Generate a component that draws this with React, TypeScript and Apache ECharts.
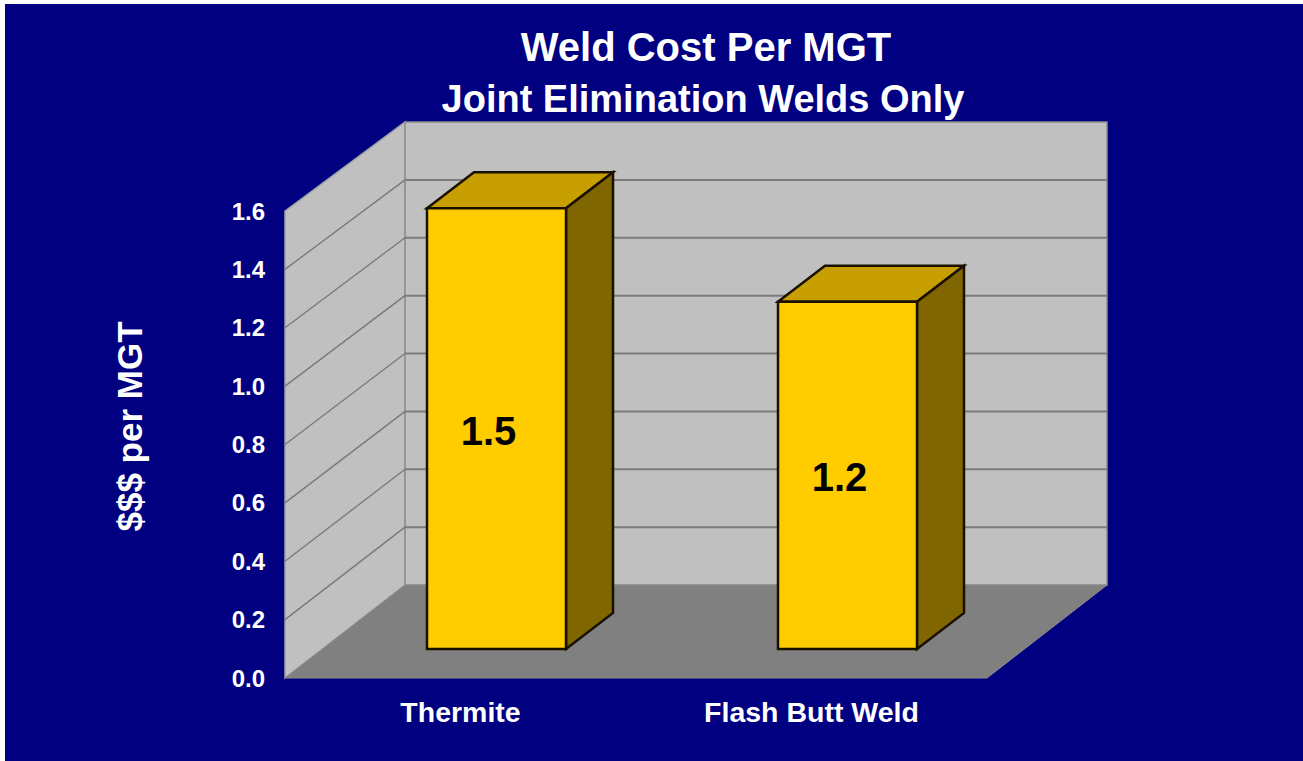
import React, { useEffect, useRef } from "react";
import * as echarts from "echarts";

const categories = ["Thermite", "Flash Butt Weld"];
const costValues = [1.51, 1.19];
const valueTicks = [0, 0.2, 0.4, 0.6, 0.8, 1.0, 1.2, 1.4, 1.6];
const titleLineOne = "Weld Cost Per MGT";
const titleLineTwo = "Joint Elimination Welds Only";
const yAxisName = "$$$ per MGT";

const DEPTH_X = 120;
const DEPTH_Y_FLOOR = -93;
const DEPTH_Y_TOP = -89;
const BAR_W = 139;
const BAR_DX = 36;
const BAR_DY = -29;
const BAR_DEPTH_X = 47;
const BAR_DEPTH_Y = -36;
const FONT = "Liberation Sans, Arial, sans-serif";

function poly(points: number[][], fill: string, stroke?: string, lineWidth = 1.5) {
  return {
    type: "polygon",
    shape: { points },
    style: { fill, stroke: stroke || "none", lineWidth, lineJoin: "miter" },
  };
}
function seg(a: number[], b: number[], stroke: string, lineWidth = 1.2) {
  return {
    type: "line",
    shape: { x1: a[0], y1: a[1], x2: b[0], y2: b[1] },
    style: { stroke, lineWidth },
  };
}
const depthY = (v: number) => DEPTH_Y_FLOOR + ((DEPTH_Y_TOP - DEPTH_Y_FLOOR) * v) / 1.6;

export default function App() {
  const ref = useRef<HTMLDivElement>(null);
  useEffect(() => {
    document.body.style.margin = "0";
    document.body.style.background = "#ffffff";
    const chart = echarts.init(ref.current!, undefined, { renderer: "svg" });

    const renderWalls = (_p: any, api: any) => {
      const sys = _p.coordSys;
      const L = sys.x;
      const R = sys.x + sys.width;
      const y0 = api.coord([0, 0])[1];
      const y1 = api.coord([0, 1.6])[1];
      const by0 = y0 + DEPTH_Y_FLOOR;
      const by1 = y1 + DEPTH_Y_TOP;
      const edge = "#8c8c8c";
      const children: any[] = [];
      children.push(poly([[L, y1], [L + DEPTH_X, by1], [L + DEPTH_X, by0], [L, y0]], "#c0c0c0", "#a0a0a8", 1.5));
      children.push(poly([[L + DEPTH_X, by1], [R + DEPTH_X, by1], [R + DEPTH_X, by0], [L + DEPTH_X, by0]], "#c0c0c0", edge, 1.5));
      children.push(poly([[L, y0], [L + DEPTH_X, by0], [R + DEPTH_X, by0], [R, y0]], "#808080", edge, 1));
      valueTicks.slice(1, -1).forEach((t) => {
        const y = api.coord([0, t])[1];
        const by = y + depthY(t);
        children.push(seg([L, y], [L + DEPTH_X, by], "#787878", 1.3));
        children.push(seg([L + DEPTH_X, by], [R + DEPTH_X, by], "#7c7c7c", 2));
      });
      return { type: "group", children };
    };

    const renderBar = (_p: any, api: any) => {
      const cat = api.value(0);
      const val = api.value(1);
      const base = api.coord([cat, 0]);
      const top = api.coord([cat, val]);
      const x0 = base[0] + BAR_DX - BAR_W / 2;
      const x1 = x0 + BAR_W;
      const yb = base[1] + BAR_DY;
      const yt = top[1] + BAR_DY;
      const k = "#1a1000";
      return {
        type: "group",
        children: [
          poly([[x0, yt], [x0 + BAR_DEPTH_X, yt + BAR_DEPTH_Y], [x1 + BAR_DEPTH_X, yt + BAR_DEPTH_Y], [x1, yt]], "#c79f00", k, 2.5),
          poly([[x1, yt], [x1 + BAR_DEPTH_X, yt + BAR_DEPTH_Y], [x1 + BAR_DEPTH_X, yb + BAR_DEPTH_Y], [x1, yb]], "#806600", k, 2.5),
          poly([[x0, yt], [x1, yt], [x1, yb], [x0, yb]], "#ffcc00", k, 2.5),
          {
            type: "text",
            x: (x0 + x1) / 2 - 8,
            y: (yt + yb) / 2 + 2,
            style: {
              text: val.toFixed(1),
              fill: "#000000",
              font: `bold 40px ${FONT}`,
              align: "center",
              verticalAlign: "middle",
            },
          },
        ],
      };
    };

    chart.setOption({
      animation: false,
      title: [
        {
          text: titleLineOne,
          left: 701,
          top: 22,
          textAlign: "center",
          textStyle: { color: "#ffffff", fontFamily: FONT, fontWeight: "bold", fontSize: 40 },
        },
        {
          text: titleLineTwo,
          left: 698,
          top: 75,
          textAlign: "center",
          textStyle: { color: "#ffffff", fontFamily: FONT, fontWeight: "bold", fontSize: 38 },
        },
      ],
      grid: { left: 285, top: 211, width: 702, height: 467 },
      xAxis: {
        type: "category",
        data: categories,
        axisLine: { show: false },
        axisTick: { show: false },
        axisLabel: { color: "#ffffff", fontFamily: FONT, fontWeight: "bold", fontSize: 28.5, margin: 19 },
      },
      yAxis: {
        type: "value",
        min: 0,
        max: 1.6,
        interval: 0.2,
        name: yAxisName,
        nameLocation: "middle",
        nameGap: 138,
        nameTextStyle: { color: "#ffffff", fontFamily: FONT, fontWeight: "bold", fontSize: 35, padding: [0, 0, 0, 36] },
        axisLine: { show: false },
        axisTick: { show: false },
        splitLine: { show: false },
        axisLabel: {
          color: "#ffffff",
          fontFamily: FONT,
          fontWeight: "bold",
          fontSize: 24,
          margin: 20,
          padding: [3, 0, 0, 0],
          formatter: (v: number) => v.toFixed(1),
        },
      },
      series: [
        {
          type: "custom",
          renderItem: renderWalls,
          data: [[0, 0]],
          silent: true,
          z: 1,
          clip: false,
        },
        {
          type: "custom",
          renderItem: renderBar,
          data: costValues.map((v, i) => [i, v]),
          encode: { x: 0, y: 1 },
          z: 2,
          clip: false,
        },
      ],
    });
    return () => chart.dispose();
  }, []);
  return (
    <div style={{ position: "absolute", left: 0, top: 0, width: 1303, height: 761, overflow: "hidden", background: "#ffffff" }}>
      <div style={{ position: "absolute", left: 5, top: 4, width: 1298, height: 757, background: "#000080" }} />
      <div ref={ref} style={{ position: "absolute", left: 0, top: 0, width: 1303, height: 761 }} />
    </div>
  );
}
